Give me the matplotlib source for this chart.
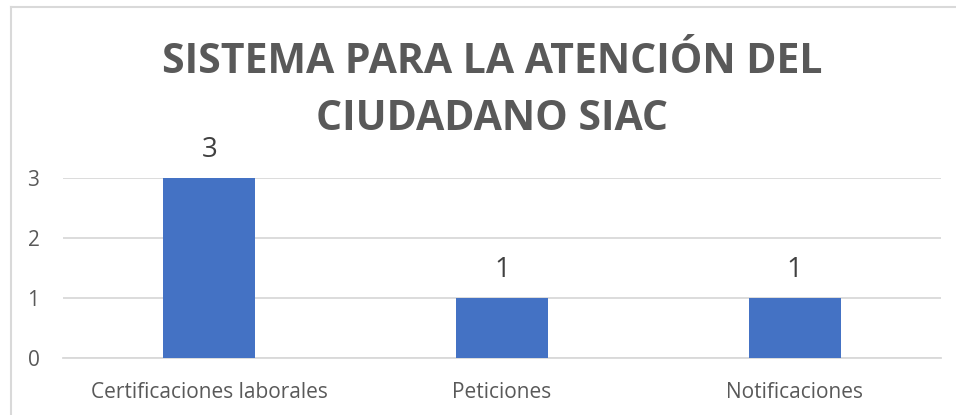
import matplotlib.pyplot as plt
from matplotlib.lines import Line2D

categories = ['Certificaciones laborales', 'Peticiones', 'Notificaciones']
values = [3, 1, 1]
title_lines = ['SISTEMA PARA LA ATENCIÓN DEL', 'CIUDADANO SIAC']

W, H = 956, 415
fig = plt.figure(figsize=(W / 100, H / 100), dpi=100)
ax = fig.add_axes([63 / W, 1 - 358 / H, (941 - 63) / W, (358 - 178) / H])

plt.rcParams['font.family'] = ['Open Sans', 'DejaVu Sans']

x = range(len(categories))
bars = ax.bar(x, values, width=0.314, color='#4472C4', zorder=3)
for b, v in zip(bars, values):
    ax.text(b.get_x() + b.get_width() / 2, v + 21 / 60, str(v), ha='center', va='baseline',
            fontsize=20, color='#404040', family='Open Sans', clip_on=False)

ax.set_xlim(-0.5, 2.5)
ax.set_ylim(0, 3)
ax.set_yticks([0, 1, 2, 3])
ax.set_xticks(list(x))
ax.set_xticklabels(categories, family='Open Sans', fontsize=15, color='#595959')
ax.set_yticklabels(['0', '1', '2', '3'], family='Open Sans', fontsize=15, color='#595959')
ax.tick_params(axis='both', length=0)
ax.tick_params(axis='y', pad=17)
ax.tick_params(axis='x', pad=17)
ax.grid(axis='y', color='#D9D9D9', linewidth=1.3, zorder=0)
for s in ax.spines.values():
    s.set_visible(False)
ax.axhline(0, color='#D9D9D9', linewidth=1.3, zorder=2, clip_on=False)

for line, base in zip(title_lines, [73, 130]):
    fig.text(492 / W, 1 - base / H, line, ha='center', va='baseline', fontsize=29.5,
             fontweight='bold', color='#595959', family='Open Sans')

# chart frame (cropped)
fig.add_artist(Line2D([10.5 / W, 10.5 / W], [0, 1 - 7.5 / H], color='#D9D9D9', linewidth=1.5))
fig.add_artist(Line2D([10.5 / W, 1], [1 - 7.5 / H, 1 - 7.5 / H], color='#D9D9D9', linewidth=1.5))

fig.savefig('out.png', dpi=100)
